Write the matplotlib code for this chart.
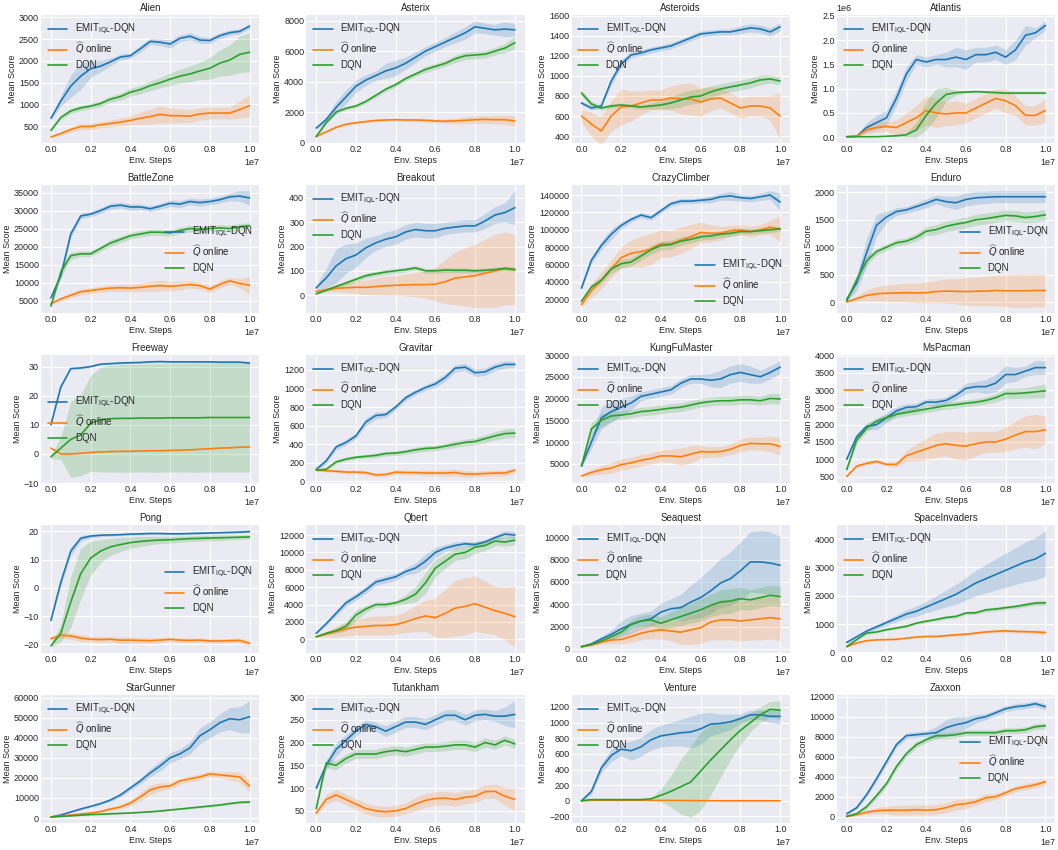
import matplotlib
matplotlib.use("Agg")
import matplotlib.pyplot as plt
from matplotlib.ticker import MultipleLocator
import numpy as np

# Evaluation checkpoints (in units of 1e7 environment steps)
steps_e7 = [0.0, 0.05, 0.1, 0.15, 0.2, 0.25, 0.3, 0.35, 0.4, 0.45, 0.5,
            0.55, 0.6, 0.65, 0.7, 0.75, 0.8, 0.85, 0.9, 0.95, 1.0]

series_labels = [r"EMIT$_{\mathrm{IQL}}$-DQN", r"$\widehat{Q}$ online", "DQN"]
series_colors = ["#1f77b4", "#ff7f0e", "#2ca02c"]

# ---- Alien ----
alien_emit = [680, 1080, 1420, 1650, 1820, 1880, 1980, 2090, 2120, 2280, 2450, 2430, 2390, 2520, 2570, 2480, 2470, 2580, 2650, 2680, 2800]
alien_emit_sd = [30, 120, 260, 300, 200, 130, 90, 70, 60, 80, 70, 80, 90, 80, 80, 80, 70, 70, 60, 60, 60]
alien_q = [250, 330, 420, 490, 490, 530, 560, 590, 630, 680, 720, 770, 740, 740, 730, 780, 800, 800, 800, 880, 970]
alien_q_sd = [20, 40, 60, 70, 70, 70, 80, 90, 100, 140, 170, 200, 180, 160, 150, 140, 140, 130, 140, 200, 250]
alien_dqn = [400, 700, 850, 920, 960, 1020, 1120, 1180, 1280, 1340, 1430, 1500, 1580, 1650, 1700, 1770, 1830, 1950, 2020, 2150, 2200]
alien_dqn_sd = [30, 50, 60, 60, 60, 70, 70, 80, 90, 100, 110, 120, 140, 160, 180, 200, 250, 300, 350, 420, 450]

# ---- Asterix ----
asterix_emit = [950, 1500, 2300, 3000, 3700, 4100, 4400, 4700, 4900, 5200, 5600, 6000, 6300, 6600, 6900, 7200, 7600, 7500, 7400, 7450, 7400]
asterix_emit_sd = [80, 200, 400, 450, 400, 350, 300, 500, 500, 400, 350, 300, 300, 300, 350, 400, 400, 350, 350, 500, 400]
asterix_q = [400, 700, 1000, 1200, 1300, 1380, 1450, 1480, 1500, 1480, 1480, 1460, 1420, 1400, 1420, 1460, 1500, 1520, 1500, 1500, 1420]
asterix_q_sd = [50, 60, 80, 80, 80, 80, 80, 80, 80, 100, 100, 120, 130, 150, 200, 220, 250, 250, 280, 300, 350]
asterix_dqn = [400, 1300, 2000, 2250, 2400, 2700, 3100, 3500, 3800, 4200, 4500, 4800, 5000, 5200, 5500, 5700, 5750, 5800, 6000, 6200, 6550]
asterix_dqn_sd = [50, 100, 120, 120, 120, 120, 130, 150, 150, 150, 150, 200, 200, 200, 250, 250, 250, 250, 250, 300, 400]

# ---- Asteroids ----
asteroids_emit = [730, 680, 700, 950, 1120, 1210, 1230, 1260, 1280, 1300, 1340, 1380, 1420, 1430, 1440, 1440, 1460, 1480, 1470, 1440, 1490]
asteroids_emit_sd = [20, 20, 20, 40, 40, 30, 30, 30, 30, 30, 30, 30, 30, 30, 30, 30, 40, 40, 40, 40, 40]
asteroids_q = [600, 520, 450, 600, 690, 700, 730, 760, 760, 780, 770, 770, 740, 770, 780, 730, 680, 700, 700, 680, 600]
asteroids_q_sd = [60, 120, 140, 150, 180, 150, 120, 100, 100, 120, 150, 160, 140, 120, 100, 100, 100, 100, 100, 120, 240]
asteroids_dqn = [830, 720, 680, 700, 710, 700, 690, 700, 710, 730, 760, 790, 800, 840, 870, 890, 910, 930, 960, 970, 950]
asteroids_dqn_sd = [30, 30, 20, 20, 20, 20, 20, 30, 40, 60, 70, 70, 70, 60, 50, 50, 50, 50, 50, 40, 40]

# ---- Atlantis (scores in units of 1e6) ----
atlantis_emit = [0.01, 0.02, 0.2, 0.3, 0.4, 0.8, 1.3, 1.6, 1.55, 1.6, 1.6, 1.65, 1.6, 1.7, 1.7, 1.75, 1.65, 1.8, 2.1, 2.15, 2.3]
atlantis_emit_sd = [0.0, 0.01, 0.1, 0.15, 0.15, 0.15, 0.15, 0.1, 0.1, 0.1, 0.15, 0.2, 0.2, 0.15, 0.15, 0.15, 0.15, 0.2, 0.2, 0.1, 0.1]
atlantis_q = [0.01, 0.02, 0.15, 0.2, 0.22, 0.2, 0.3, 0.4, 0.55, 0.5, 0.48, 0.5, 0.5, 0.6, 0.7, 0.8, 0.75, 0.65, 0.45, 0.45, 0.55]
atlantis_q_sd = [0.0, 0.01, 0.08, 0.1, 0.1, 0.15, 0.2, 0.25, 0.3, 0.3, 0.25, 0.25, 0.2, 0.2, 0.2, 0.2, 0.25, 0.2, 0.2, 0.2, 0.25]
atlantis_dqn = [0.01, 0.01, 0.01, 0.01, 0.02, 0.03, 0.05, 0.15, 0.45, 0.7, 0.88, 0.92, 0.93, 0.94, 0.93, 0.92, 0.91, 0.91, 0.91, 0.91, 0.91]
atlantis_dqn_sd = [0.0, 0.0, 0.0, 0.0, 0.01, 0.02, 0.05, 0.15, 0.3, 0.3, 0.15, 0.05, 0.02, 0.02, 0.02, 0.02, 0.02, 0.02, 0.02, 0.02, 0.02]

# ---- BattleZone ----
battlezone_emit = [5800, 12000, 23500, 28500, 29000, 30000, 31200, 31500, 31000, 31000, 30500, 31200, 32000, 31800, 32500, 32200, 32500, 33000, 33800, 34000, 33500]
battlezone_emit_sd = [300, 800, 1000, 800, 700, 800, 800, 800, 900, 800, 800, 800, 900, 1000, 900, 1000, 900, 900, 1000, 1500, 2000]
battlezone_q = [4200, 5500, 6500, 7500, 7800, 8200, 8500, 8600, 8500, 8700, 9000, 9200, 9000, 9200, 9500, 9200, 8200, 9500, 10500, 9800, 9300]
battlezone_q_sd = [300, 500, 700, 800, 800, 800, 900, 1000, 1000, 1200, 1400, 1500, 1300, 1200, 1000, 1000, 1000, 1000, 1000, 1200, 2500]
battlezone_dqn = [3500, 13000, 17500, 18000, 18000, 19500, 21000, 22000, 23000, 23500, 24000, 24000, 23800, 24500, 25000, 24800, 25000, 25200, 25000, 25500, 25800]
battlezone_dqn_sd = [300, 1500, 1000, 800, 800, 800, 900, 900, 900, 900, 900, 900, 900, 900, 900, 900, 900, 900, 900, 900, 900]

# ---- Breakout ----
breakout_emit = [30, 70, 120, 150, 165, 195, 215, 230, 240, 260, 270, 265, 265, 275, 280, 285, 285, 305, 330, 340, 360]
breakout_emit_sd = [10, 40, 70, 60, 50, 40, 30, 30, 30, 30, 30, 30, 30, 25, 25, 25, 25, 30, 35, 40, 70]
breakout_q = [15, 22, 28, 30, 32, 32, 35, 38, 40, 42, 43, 43, 45, 55, 70, 75, 80, 90, 100, 110, 105]
breakout_q_sd = [5, 10, 15, 20, 25, 30, 35, 40, 40, 45, 50, 55, 70, 90, 110, 120, 130, 140, 150, 150, 145]
breakout_dqn = [5, 20, 35, 50, 65, 80, 88, 95, 100, 105, 112, 100, 100, 103, 102, 102, 100, 102, 105, 110, 105]
breakout_dqn_sd = [3, 5, 8, 10, 10, 10, 10, 10, 10, 10, 10, 10, 10, 10, 10, 10, 10, 10, 10, 10, 10]

# ---- CrazyClimber ----
crazyclimber_emit = [33000, 65000, 82000, 95000, 105000, 112000, 117000, 114000, 122000, 130000, 133000, 133000, 134000, 135000, 138000, 139000, 137000, 136000, 138000, 140000, 132000]
crazyclimber_emit_sd = [2000, 4000, 5000, 6000, 4000, 3000, 3000, 3000, 3000, 3000, 3000, 3000, 3000, 4000, 4000, 5000, 4000, 4000, 4000, 5000, 10000]
crazyclimber_q = [14000, 30000, 42000, 55000, 68000, 73000, 75000, 78000, 84000, 84000, 88000, 92000, 97000, 96000, 96000, 99000, 100000, 98000, 100000, 103000, 101000]
crazyclimber_q_sd = [3000, 8000, 10000, 10000, 12000, 15000, 18000, 18000, 16000, 15000, 15000, 14000, 12000, 10000, 8000, 6000, 6000, 6000, 6000, 8000, 15000]
crazyclimber_dqn = [18000, 34000, 42000, 55000, 61000, 63000, 70000, 77000, 82000, 83000, 87000, 89000, 92000, 93000, 95000, 96000, 98000, 98000, 99000, 100000, 101000]
crazyclimber_dqn_sd = [2000, 4000, 4000, 5000, 5000, 5000, 5000, 5000, 5000, 5000, 5000, 4000, 4000, 4000, 4000, 4000, 3000, 3000, 3000, 3000, 3000]

# ---- Enduro ----
enduro_emit = [50, 350, 900, 1400, 1550, 1650, 1680, 1740, 1800, 1870, 1830, 1810, 1870, 1900, 1910, 1920, 1920, 1920, 1920, 1920, 1920]
enduro_emit_sd = [30, 150, 250, 200, 100, 70, 60, 70, 80, 80, 100, 120, 120, 120, 110, 110, 110, 110, 110, 110, 110]
enduro_q = [0, 60, 120, 150, 160, 165, 170, 165, 170, 190, 200, 195, 190, 195, 200, 210, 205, 205, 205, 210, 210]
enduro_q_sd = [10, 50, 100, 130, 150, 160, 170, 180, 190, 200, 220, 230, 250, 260, 270, 280, 290, 300, 300, 300, 300]
enduro_dqn = [20, 400, 750, 920, 1000, 1080, 1110, 1180, 1290, 1320, 1380, 1420, 1450, 1500, 1520, 1550, 1580, 1570, 1540, 1560, 1590]
enduro_dqn_sd = [20, 80, 80, 60, 60, 60, 60, 70, 80, 90, 100, 100, 100, 100, 100, 100, 100, 100, 100, 100, 100]

# ---- Freeway ----
freeway_emit = [10, 23, 29.3, 29.5, 30, 30.8, 31, 31.2, 31.3, 31.4, 31.6, 31.7, 31.6, 31.6, 31.6, 31.6, 31.6, 31.5, 31.5, 31.5, 31.2]
freeway_emit_sd = [0.3, 0.5, 0.4, 0.3, 0.3, 0.3, 0.3, 0.3, 0.3, 0.3, 0.3, 0.3, 0.3, 0.3, 0.3, 0.3, 0.3, 0.3, 0.3, 0.3, 0.3]
freeway_q = [2, 0, 0, 0.2, 0.5, 0.7, 0.8, 0.9, 0.9, 1.0, 1.1, 1.1, 1.2, 1.3, 1.4, 1.6, 1.8, 2.0, 2.1, 2.3, 2.4]
freeway_q_sd = [0.1, 0.1, 0.1, 0.1, 0.1, 0.1, 0.1, 0.1, 0.1, 0.1, 0.1, 0.1, 0.1, 0.1, 0.1, 0.1, 0.1, 0.1, 0.1, 0.1, 0.1]
freeway_dqn = [-1, 2, 5, 6.5, 10.5, 11.8, 12.1, 12.2, 12.2, 12.3, 12.3, 12.3, 12.4, 12.4, 12.4, 12.4, 12.5, 12.5, 12.5, 12.5, 12.5]
freeway_dqn_sd = [0.5, 4, 13, 14, 16.5, 18, 18.3, 18.5, 18.5, 18.5, 18.6, 18.6, 18.6, 18.6, 18.7, 18.7, 18.7, 18.7, 18.7, 18.7, 18.7]

# ---- Gravitar ----
gravitar_emit = [130, 220, 370, 420, 490, 640, 710, 720, 800, 900, 960, 1010, 1050, 1120, 1220, 1230, 1170, 1180, 1230, 1260, 1260]
gravitar_emit_sd = [20, 30, 30, 30, 30, 40, 40, 30, 30, 30, 30, 30, 40, 40, 40, 40, 40, 40, 40, 40, 30]
gravitar_q = [130, 115, 110, 100, 100, 95, 70, 75, 100, 95, 95, 90, 90, 90, 95, 80, 80, 85, 90, 90, 120]
gravitar_q_sd = [10, 15, 20, 20, 20, 20, 20, 20, 25, 25, 25, 30, 30, 35, 35, 35, 30, 30, 30, 30, 30]
gravitar_dqn = [120, 130, 210, 240, 260, 270, 280, 300, 305, 320, 340, 355, 360, 380, 400, 420, 430, 460, 490, 515, 520]
gravitar_dqn_sd = [15, 20, 20, 20, 20, 20, 25, 25, 25, 25, 30, 30, 30, 30, 35, 35, 40, 40, 45, 50, 50]

# ---- KungFuMaster ----
kungfumaster_emit = [4500, 10000, 15500, 17000, 18000, 19000, 20500, 21000, 21500, 22000, 23500, 24500, 24500, 24200, 24500, 25500, 26000, 25500, 25000, 26000, 27200]
kungfumaster_emit_sd = [300, 1500, 2500, 2500, 2000, 1500, 1000, 1000, 1000, 1000, 1000, 1000, 1000, 1500, 2000, 2000, 2000, 2000, 1500, 1500, 1500]
kungfumaster_q = [2200, 3000, 3600, 4000, 4800, 5200, 5800, 6200, 6800, 6800, 6600, 7200, 7800, 7700, 7800, 8300, 9200, 9700, 9600, 9600, 9000]
kungfumaster_q_sd = [300, 700, 1000, 1200, 1300, 1300, 1300, 1300, 1300, 1500, 2000, 2000, 1500, 1200, 1200, 1200, 1500, 1500, 1500, 1800, 2000]
kungfumaster_dqn = [4500, 13000, 15000, 16000, 16200, 16500, 17000, 17200, 17500, 17800, 18000, 18500, 19000, 19300, 19500, 19500, 19700, 19700, 19500, 20000, 19900]
kungfumaster_dqn_sd = [500, 1500, 1500, 1200, 1000, 1000, 1000, 1000, 1000, 1000, 1000, 1000, 1000, 1000, 1000, 1000, 1000, 1000, 1000, 1200, 1200]

# ---- MsPacman ----
mspacman_emit = [1000, 1650, 1950, 2000, 2200, 2400, 2500, 2520, 2650, 2650, 2700, 2850, 3050, 3100, 3100, 3200, 3450, 3450, 3550, 3650, 3650]
mspacman_emit_sd = [30, 80, 100, 150, 150, 120, 100, 100, 100, 100, 100, 120, 150, 150, 200, 250, 250, 200, 150, 200, 200]
mspacman_q = [500, 800, 880, 940, 850, 850, 1100, 1200, 1300, 1400, 1450, 1400, 1380, 1450, 1500, 1500, 1580, 1700, 1800, 1800, 1850]
mspacman_q_sd = [20, 40, 50, 50, 50, 80, 150, 250, 300, 350, 350, 400, 400, 350, 300, 300, 350, 400, 450, 500, 400]
mspacman_dqn = [700, 1550, 1900, 2100, 2200, 2300, 2350, 2400, 2450, 2500, 2550, 2580, 2620, 2650, 2700, 2780, 2900, 2900, 2920, 2950, 2980]
mspacman_dqn_sd = [50, 100, 100, 100, 100, 100, 100, 100, 100, 100, 100, 100, 100, 100, 100, 120, 150, 150, 150, 180, 200]

# ---- Pong ----
pong_emit = [-11.5, 2, 13, 17.5, 18.3, 18.6, 18.7, 18.8, 19, 19.1, 19.2, 19.2, 19.1, 19.1, 19.2, 19.3, 19.4, 19.5, 19.6, 19.7, 19.9]
pong_emit_sd = [0.5, 1.5, 1.5, 1, 0.6, 0.5, 0.5, 0.4, 0.4, 0.3, 0.3, 0.3, 0.3, 0.3, 0.3, 0.3, 0.3, 0.3, 0.3, 0.3, 0.3]
pong_q = [-18, -16.8, -17, -17.8, -18.2, -18.3, -18.2, -18.5, -18.5, -18.6, -18.7, -18.5, -18.2, -18.5, -18.6, -18.5, -18.8, -18.8, -18.7, -18.6, -19.6]
pong_q_sd = [0.8, 1, 1.2, 1.2, 1, 1, 1, 1.2, 1.2, 1, 1, 1, 0.8, 0.8, 0.8, 0.8, 0.8, 0.8, 0.8, 0.8, 1]
pong_dqn = [-20.5, -16, -5, 5, 10.5, 13, 14.5, 15.3, 16, 16.4, 16.7, 16.9, 17, 17.2, 17.4, 17.5, 17.6, 17.7, 17.8, 17.9, 18]
pong_dqn_sd = [0.5, 3, 9, 9, 6, 4, 3, 2.5, 2, 1.8, 1.5, 1.3, 1.2, 1.1, 1, 1, 1, 1, 0.8, 0.8, 0.8]

# ---- Qbert ----
qbert_emit = [700, 1800, 3000, 4200, 4900, 5700, 6600, 6900, 7200, 7800, 8200, 9000, 10000, 10500, 10800, 11000, 10900, 11200, 11700, 12100, 12000]
qbert_emit_sd = [100, 200, 300, 400, 400, 400, 400, 400, 400, 400, 600, 800, 600, 400, 400, 300, 300, 300, 300, 400, 400]
qbert_q = [300, 600, 900, 1200, 1400, 1500, 1600, 1600, 1700, 2000, 2400, 2700, 2500, 3000, 3600, 3800, 4100, 3700, 3300, 3000, 2600]
qbert_q_sd = [50, 300, 600, 800, 900, 1000, 1100, 1100, 1100, 1200, 1500, 1800, 2200, 2800, 3200, 3300, 3200, 3000, 2800, 3000, 3500]
qbert_dqn = [300, 700, 1000, 1500, 2800, 3500, 4000, 4000, 4200, 4600, 5200, 6500, 8200, 9000, 9800, 10000, 10600, 10800, 11300, 11200, 11400]
qbert_dqn_sd = [50, 150, 300, 500, 600, 400, 300, 300, 300, 500, 900, 1200, 1000, 800, 700, 700, 700, 600, 500, 500, 500]

# ---- Seaquest ----
seaquest_emit = [200, 450, 900, 1300, 1800, 2200, 2500, 2700, 3300, 3600, 3700, 4200, 4600, 5200, 5900, 6300, 7000, 7800, 7800, 7700, 7500]
seaquest_emit_sd = [50, 100, 200, 400, 700, 800, 700, 700, 800, 900, 1200, 1500, 1800, 2000, 2200, 2400, 2600, 2700, 2800, 2800, 2600]
seaquest_q = [200, 350, 600, 800, 850, 1100, 1400, 1600, 1700, 1600, 1500, 1700, 1900, 2400, 2600, 2600, 2500, 2600, 2700, 2800, 2700]
seaquest_q_sd = [50, 100, 200, 300, 400, 500, 600, 700, 800, 900, 1100, 1300, 1400, 1600, 1800, 1800, 1800, 1800, 1900, 1900, 2000]
seaquest_dqn = [200, 400, 700, 1100, 1500, 2200, 2500, 2600, 2300, 2600, 2900, 3200, 3500, 3900, 4200, 4300, 4500, 4400, 4600, 4800, 4700]
seaquest_dqn_sd = [50, 100, 150, 200, 300, 400, 500, 500, 600, 700, 800, 900, 1000, 1000, 1100, 1100, 1000, 900, 900, 900, 900]

# ---- SpaceInvaders ----
spaceinvaders_emit = [350, 550, 750, 900, 1050, 1200, 1350, 1450, 1600, 1750, 1900, 2050, 2250, 2450, 2600, 2750, 2900, 3050, 3200, 3300, 3500]
spaceinvaders_emit_sd = [30, 40, 60, 80, 100, 120, 150, 180, 200, 250, 300, 350, 400, 450, 500, 550, 600, 650, 700, 750, 800]
spaceinvaders_q = [200, 330, 410, 440, 450, 460, 500, 540, 560, 560, 590, 620, 640, 680, 720, 740, 760, 740, 730, 720, 700]
spaceinvaders_q_sd = [20, 30, 30, 30, 30, 30, 40, 40, 40, 40, 50, 50, 50, 50, 50, 60, 60, 60, 60, 70, 80]
spaceinvaders_dqn = [200, 450, 680, 720, 800, 860, 920, 1030, 1100, 1160, 1230, 1270, 1390, 1400, 1500, 1530, 1580, 1620, 1680, 1740, 1750]
spaceinvaders_dqn_sd = [20, 30, 40, 40, 40, 40, 50, 50, 50, 50, 60, 60, 60, 60, 70, 70, 70, 70, 80, 80, 90]

# ---- StarGunner ----
stargunner_emit = [500, 1500, 3000, 4500, 5800, 7200, 9000, 11500, 15000, 18500, 22500, 26000, 30000, 32000, 35000, 41000, 44000, 47500, 49500, 49000, 50500]
stargunner_emit_sd = [100, 200, 300, 400, 500, 600, 800, 1000, 1200, 1500, 2000, 2500, 2500, 2500, 3000, 4000, 4000, 4500, 5500, 6500, 8000]
stargunner_q = [500, 1000, 1500, 2000, 2500, 3200, 4500, 5500, 7500, 10500, 14000, 15500, 16000, 18500, 19500, 20500, 22000, 21500, 21000, 20500, 16000]
stargunner_q_sd = [50, 100, 200, 300, 400, 500, 700, 1000, 1500, 2000, 2500, 2000, 1500, 1500, 1500, 1500, 1500, 1500, 2000, 2500, 3000]
stargunner_dqn = [500, 800, 1100, 1400, 1700, 1900, 2100, 2300, 2500, 2800, 3100, 3500, 4000, 4500, 5000, 5500, 6000, 6500, 7200, 7800, 8000]
stargunner_dqn_sd = [50, 80, 100, 100, 100, 100, 150, 150, 150, 200, 200, 250, 300, 350, 400, 450, 500, 500, 600, 600, 700]

# ---- Tutankham ----
tutankham_emit = [100, 150, 185, 205, 225, 240, 235, 225, 235, 245, 245, 240, 250, 260, 260, 250, 260, 262, 258, 258, 262]
tutankham_emit_sd = [5, 10, 15, 12, 10, 10, 10, 12, 12, 12, 12, 12, 12, 12, 12, 12, 12, 12, 12, 20, 30]
tutankham_q = [45, 75, 85, 75, 65, 55, 50, 48, 50, 55, 65, 73, 77, 78, 75, 80, 82, 92, 93, 82, 75]
tutankham_q_sd = [5, 10, 12, 12, 12, 12, 12, 12, 12, 12, 15, 15, 15, 15, 15, 15, 15, 15, 15, 20, 25]
tutankham_dqn = [55, 155, 150, 165, 175, 175, 175, 180, 183, 180, 185, 190, 190, 192, 195, 195, 190, 200, 195, 205, 197]
tutankham_dqn_sd = [5, 10, 10, 10, 10, 10, 10, 10, 10, 10, 10, 10, 10, 10, 10, 10, 10, 10, 10, 10, 10]

# ---- Venture ----
venture_emit = [0, 120, 420, 580, 660, 640, 690, 780, 830, 850, 870, 880, 920, 980, 990, 1010, 1050, 1100, 1100, 1080, 1080]
venture_emit_sd = [10, 40, 60, 80, 80, 120, 120, 130, 140, 150, 170, 200, 200, 150, 120, 100, 60, 60, 60, 80, 100]
venture_q = [0, 5, 5, 5, 5, 5, 5, 5, 5, 4, 3, 2, 1, 1, 0, 0, 0, 0, 0, 0, 0]
venture_q_sd = [0, 2, 2, 2, 2, 2, 2, 2, 2, 2, 2, 1, 1, 1, 0, 0, 0, 0, 0, 0, 0]
venture_dqn = [0, 15, 15, 15, 15, 15, 15, 25, 70, 120, 180, 240, 380, 520, 650, 780, 900, 1000, 1100, 1170, 1160]
venture_dqn_sd = [5, 10, 10, 10, 10, 10, 10, 15, 80, 200, 350, 450, 500, 450, 350, 250, 180, 120, 100, 100, 120]

# ---- Zaxxon ----
zaxxon_emit = [300, 900, 2200, 3800, 5500, 7200, 8100, 8200, 8300, 8400, 8900, 9200, 9400, 9800, 10000, 10400, 10800, 11000, 11100, 11300, 11000]
zaxxon_emit_sd = [100, 150, 200, 300, 300, 300, 300, 300, 300, 600, 800, 800, 600, 400, 300, 300, 300, 300, 300, 300, 300]
zaxxon_q = [0, 200, 450, 600, 650, 650, 650, 700, 650, 700, 900, 1200, 1300, 1500, 1900, 2000, 2400, 2800, 3000, 3200, 3500]
zaxxon_q_sd = [50, 100, 200, 300, 400, 500, 500, 500, 500, 500, 500, 500, 500, 400, 400, 300, 300, 300, 300, 300, 300]
zaxxon_dqn = [50, 300, 1000, 2100, 3300, 5000, 6300, 7200, 7700, 8100, 8100, 8200, 8400, 8400, 8400, 8400, 8600, 8600, 8700, 9000, 9100]
zaxxon_dqn_sd = [50, 100, 200, 300, 300, 300, 300, 300, 300, 300, 300, 300, 300, 300, 300, 300, 300, 300, 300, 300, 300]

game_titles = ["Alien", "Asterix", "Asteroids", "Atlantis",
               "BattleZone", "Breakout", "CrazyClimber", "Enduro",
               "Freeway", "Gravitar", "KungFuMaster", "MsPacman",
               "Pong", "Qbert", "Seaquest", "SpaceInvaders",
               "StarGunner", "Tutankham", "Venture", "Zaxxon"]

legend_locs = {"BattleZone": "center right", "Enduro": "center right",
               "Pong": "center right", "Zaxxon": "center right",
               "CrazyClimber": "lower right", "Freeway": "center left"}

curves = {
    "Alien": [(alien_emit, alien_emit_sd), (alien_q, alien_q_sd), (alien_dqn, alien_dqn_sd)],
    "Asterix": [(asterix_emit, asterix_emit_sd), (asterix_q, asterix_q_sd), (asterix_dqn, asterix_dqn_sd)],
    "Asteroids": [(asteroids_emit, asteroids_emit_sd), (asteroids_q, asteroids_q_sd), (asteroids_dqn, asteroids_dqn_sd)],
    "Atlantis": [(atlantis_emit, atlantis_emit_sd), (atlantis_q, atlantis_q_sd), (atlantis_dqn, atlantis_dqn_sd)],
    "BattleZone": [(battlezone_emit, battlezone_emit_sd), (battlezone_q, battlezone_q_sd), (battlezone_dqn, battlezone_dqn_sd)],
    "Breakout": [(breakout_emit, breakout_emit_sd), (breakout_q, breakout_q_sd), (breakout_dqn, breakout_dqn_sd)],
    "CrazyClimber": [(crazyclimber_emit, crazyclimber_emit_sd), (crazyclimber_q, crazyclimber_q_sd), (crazyclimber_dqn, crazyclimber_dqn_sd)],
    "Enduro": [(enduro_emit, enduro_emit_sd), (enduro_q, enduro_q_sd), (enduro_dqn, enduro_dqn_sd)],
    "Freeway": [(freeway_emit, freeway_emit_sd), (freeway_q, freeway_q_sd), (freeway_dqn, freeway_dqn_sd)],
    "Gravitar": [(gravitar_emit, gravitar_emit_sd), (gravitar_q, gravitar_q_sd), (gravitar_dqn, gravitar_dqn_sd)],
    "KungFuMaster": [(kungfumaster_emit, kungfumaster_emit_sd), (kungfumaster_q, kungfumaster_q_sd), (kungfumaster_dqn, kungfumaster_dqn_sd)],
    "MsPacman": [(mspacman_emit, mspacman_emit_sd), (mspacman_q, mspacman_q_sd), (mspacman_dqn, mspacman_dqn_sd)],
    "Pong": [(pong_emit, pong_emit_sd), (pong_q, pong_q_sd), (pong_dqn, pong_dqn_sd)],
    "Qbert": [(qbert_emit, qbert_emit_sd), (qbert_q, qbert_q_sd), (qbert_dqn, qbert_dqn_sd)],
    "Seaquest": [(seaquest_emit, seaquest_emit_sd), (seaquest_q, seaquest_q_sd), (seaquest_dqn, seaquest_dqn_sd)],
    "SpaceInvaders": [(spaceinvaders_emit, spaceinvaders_emit_sd), (spaceinvaders_q, spaceinvaders_q_sd), (spaceinvaders_dqn, spaceinvaders_dqn_sd)],
    "StarGunner": [(stargunner_emit, stargunner_emit_sd), (stargunner_q, stargunner_q_sd), (stargunner_dqn, stargunner_dqn_sd)],
    "Tutankham": [(tutankham_emit, tutankham_emit_sd), (tutankham_q, tutankham_q_sd), (tutankham_dqn, tutankham_dqn_sd)],
    "Venture": [(venture_emit, venture_emit_sd), (venture_q, venture_q_sd), (venture_dqn, venture_dqn_sd)],
    "Zaxxon": [(zaxxon_emit, zaxxon_emit_sd), (zaxxon_q, zaxxon_q_sd), (zaxxon_dqn, zaxxon_dqn_sd)],
}
score_scale = {"Atlantis": 1e6}

# Axis tick spacing and limits for panels where the default locator differs
ytick_step = {"Alien": 500, "Asteroids": 200, "BattleZone": 5000,
              "CrazyClimber": 20000, "MsPacman": 500, "Qbert": 2000,
              "Venture": 200, "StarGunner": 10000}
ylims = {"Alien": (110, 3060), "Asteroids": (330, 1610)}

plt.style.use("seaborn-v0_8-darkgrid")
plt.rcParams["font.family"] = ["Liberation Sans", "DejaVu Sans"]
plt.rcParams["mathtext.fontset"] = "dejavusans"
plt.rcParams["font.size"] = 6.5
plt.rcParams["axes.titlesize"] = 7
plt.rcParams["axes.labelsize"] = 6.5
plt.rcParams["xtick.labelsize"] = 6.5
plt.rcParams["ytick.labelsize"] = 6.5
plt.rcParams["legend.fontsize"] = 7
plt.rcParams["axes.titlepad"] = 3
plt.rcParams["axes.labelpad"] = 1.5

fig, axes = plt.subplots(5, 4, figsize=(10.58, 8.5), dpi=100)
x = np.array(steps_e7) * 1e7

for ax, title in zip(axes.flat, game_titles):
    scale = score_scale.get(title, 1.0)
    for (mean, sd), label, color in zip(curves[title], series_labels, series_colors):
        m = np.array(mean) * scale
        s = np.array(sd) * scale
        ax.plot(x, m, color=color, lw=1.2, label=label)
        ax.fill_between(x, m - s, m + s, color=color, alpha=0.2, lw=0)
    if title in ytick_step:
        ax.yaxis.set_major_locator(MultipleLocator(ytick_step[title]))
    if title in ylims:
        ax.set_ylim(*ylims[title])
    ax.set_title(title)
    ax.set_xlabel("Env. Steps")
    ax.set_ylabel("Mean Score")
    ax.tick_params(pad=1.5)
    ax.legend(loc=legend_locs.get(title, "upper left"), frameon=False,
              handlelength=2.0, labelspacing=0.4, borderaxespad=0.3)

fig.tight_layout(pad=0.3, h_pad=0.6, w_pad=0.4)
fig.savefig("out.png", dpi=100)
